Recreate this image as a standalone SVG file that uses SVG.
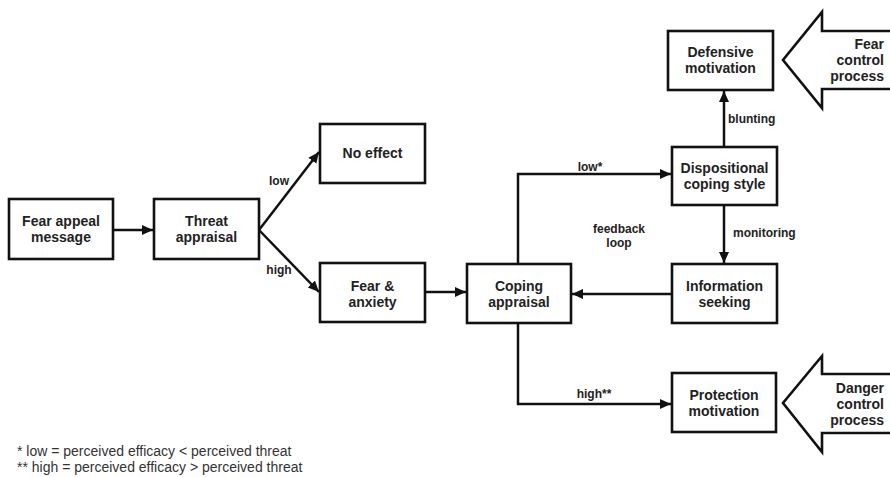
<svg xmlns="http://www.w3.org/2000/svg" width="890" height="477" viewBox="0 0 890 477">
<style>
.box{fill:#fff;stroke:#111;stroke-width:2.6}
.t{font-family:"Liberation Sans",Arial,sans-serif;font-size:14px;font-weight:bold;fill:#222;text-anchor:middle}
.lb{font-family:"Liberation Sans",Arial,sans-serif;font-size:12px;font-weight:bold;fill:#222}
.fn{font-family:"Liberation Sans",Arial,sans-serif;font-size:14px;fill:#333}
.c{fill:none;stroke:#111;stroke-width:2.5}
.big{fill:#fff;stroke:#111;stroke-width:2.6;stroke-linejoin:miter}
</style>
<defs>
<marker id="ah" markerUnits="userSpaceOnUse" markerWidth="12" markerHeight="12" viewBox="0 0 12 12" refX="11" refY="6" orient="auto">
<path d="M0,1 L11,6 L0,11 Z" fill="#111"/>
</marker>
</defs>
<rect width="890" height="477" fill="#fff"/>
<g id="connectors">
<line class="c" x1="113" y1="230" x2="153" y2="230" marker-end="url(#ah)"/>
<line class="c" x1="259" y1="230" x2="319" y2="152" marker-end="url(#ah)"/>
<line class="c" x1="259" y1="230" x2="319" y2="292" marker-end="url(#ah)"/>
<line class="c" x1="425" y1="292" x2="466" y2="292" marker-end="url(#ah)"/>
<path class="c" d="M518,264 V174 H671" marker-end="url(#ah)"/>
<path class="c" d="M518,323 V404 H671" marker-end="url(#ah)"/>
<path class="c" d="M724,205 V263" marker-end="url(#ah)"/>
<path class="c" d="M672,294 H572" marker-end="url(#ah)"/>
<path class="c" d="M724,147 V91" marker-end="url(#ah)"/>
<text class="lb" x="279" y="185" text-anchor="middle">low</text>
<text class="lb" x="279" y="274" text-anchor="middle">high</text>
<text class="lb" x="590" y="171" text-anchor="middle">low*</text>
<text class="lb" x="594" y="398" text-anchor="middle">high**</text>
<text class="lb" x="619" y="233" text-anchor="middle">feedback</text>
<text class="lb" x="619" y="247" text-anchor="middle">loop</text>
<text class="lb" x="733" y="237">monitoring</text>
<text class="lb" x="728" y="123">blunting</text>
</g>
<g id="fear-appeal">
<rect class="box" x="9" y="199" width="104" height="60"/>
<text class="t" x="61" y="226">Fear appeal</text>
<text class="t" x="61" y="242">message</text>
</g>
<g id="threat-appraisal">
<rect class="box" x="154" y="199" width="105" height="60"/>
<text class="t" x="206.5" y="226">Threat</text>
<text class="t" x="206.5" y="242">appraisal</text>
</g>
<g id="no-effect">
<rect class="box" x="320" y="124" width="105" height="59"/>
<text class="t" x="372.5" y="158">No effect</text>
</g>
<g id="fear-anxiety">
<rect class="box" x="320" y="263" width="105" height="59"/>
<text class="t" x="372.5" y="290.5">Fear &amp;</text>
<text class="t" x="372.5" y="306.5">anxiety</text>
</g>
<g id="coping-appraisal">
<rect class="box" x="467" y="264" width="104" height="59"/>
<text class="t" x="519" y="290.5">Coping</text>
<text class="t" x="519" y="306.5">appraisal</text>
</g>
<g id="dispositional">
<rect class="box" x="672" y="147" width="105" height="58"/>
<text class="t" x="724.5" y="173">Dispositional</text>
<text class="t" x="724.5" y="189">coping style</text>
</g>
<g id="information-seeking">
<rect class="box" x="672" y="264" width="105" height="59"/>
<text class="t" x="724.5" y="290.5">Information</text>
<text class="t" x="724.5" y="306.5">seeking</text>
</g>
<g id="defensive-motivation">
<rect class="box" x="668" y="31" width="105" height="59"/>
<text class="t" x="720.5" y="57">Defensive</text>
<text class="t" x="720.5" y="73">motivation</text>
</g>
<g id="protection-motivation">
<rect class="box" x="672" y="373" width="104" height="59"/>
<text class="t" x="724" y="400">Protection</text>
<text class="t" x="724" y="416">motivation</text>
</g>
<g id="fear-control-process">
<polygon class="big" points="896,31 822,31 822,12 783,60 822,108 822,89 896,89"/>
<text class="t" x="884" y="49" text-anchor="end" style="text-anchor:end">Fear</text>
<text class="t" x="884" y="65" style="text-anchor:end">control</text>
<text class="t" x="884" y="81" style="text-anchor:end">process</text>
</g>
<g id="danger-control-process">
<polygon class="big" points="896,374 822,374 822,356 783,403 822,452 822,433 896,433"/>
<text class="t" x="884" y="393" style="text-anchor:end">Danger</text>
<text class="t" x="884" y="409" style="text-anchor:end">control</text>
<text class="t" x="884" y="425" style="text-anchor:end">process</text>
</g>
<g id="footnotes">
<text class="fn" x="17" y="456">* low = perceived efficacy &lt; perceived threat</text>
<text class="fn" x="17" y="472">** high = perceived efficacy &gt; perceived threat</text>
</g>
</svg>
